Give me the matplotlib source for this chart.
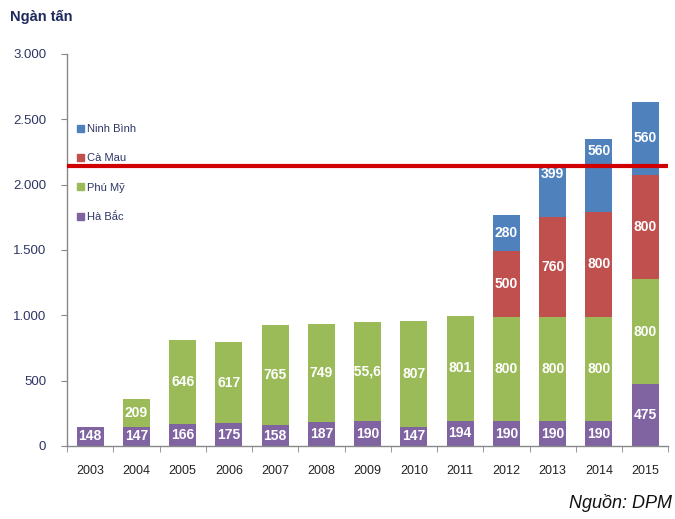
import matplotlib
matplotlib.use("Agg")
import matplotlib.pyplot as plt
from matplotlib.patches import Patch
from matplotlib.ticker import FuncFormatter

years = ["2003", "2004", "2005", "2006", "2007", "2008", "2009", "2010",
         "2011", "2012", "2013", "2014", "2015"]
ha_bac = [148, 147, 166, 175, 158, 187, 190, 147, 194, 190, 190, 190, 475]
phu_my = [0, 209, 646, 617, 765, 749, 755.69, 807, 801, 800, 800, 800, 800]
ca_mau = [0, 0, 0, 0, 0, 0, 0, 0, 0, 500, 760, 800, 800]
ninh_binh = [0, 0, 0, 0, 0, 0, 0, 0, 0, 280, 399, 560, 560]
capacity_line = 2140

series = [("Hà Bắc", ha_bac, "#8064A2"),
          ("Phú Mỹ", phu_my, "#9BBB59"),
          ("Cà Mau", ca_mau, "#C0504D"),
          ("Ninh Bình", ninh_binh, "#4F81BD")]

narrow = ["Liberation Sans", "DejaVu Sans"]
navy = "#2E3566"

fig = plt.figure(figsize=(6.75, 5.19), dpi=100)
ax = fig.add_axes([0.0993, 0.1407, 0.8907, 0.7553])

x = list(range(len(years)))
bottom = [0.0] * len(years)
for name, vals, color in series:
    ax.bar(x, vals, width=0.58, bottom=bottom, color=color, label=name, zorder=2)
    for i, v in enumerate(vals):
        if v <= 0:
            continue
        txt = f"{v:.2f}".replace(".", ",") if v != int(v) else f"{int(v)}"
        pos = 0.5
        if name == "Ninh Bình" and years[i] in ("2013", "2014"):
            pos = 0.83
        ax.text(i, bottom[i] + v * pos, txt, ha="center", va="center",
                color="white", fontsize=10, fontweight="bold",
                family=narrow, zorder=3)
    bottom = [b + v for b, v in zip(bottom, vals)]

ax.axhline(capacity_line, color="#D00000", linewidth=3, zorder=4)

ax.set_xlim(-0.34, 12.49)
ax.set_ylim(0, 3000)
ax.set_yticks(range(0, 3001, 500))
ax.yaxis.set_major_formatter(FuncFormatter(lambda v, p: f"{int(v):,}".replace(",", ".")))
ax.set_xticks(x)
ax.set_xticklabels(years)
ax.set_xticks([i + 0.5 for i in range(-1, len(years))], minor=True)
ax.tick_params(axis="x", which="major", length=0, pad=14, labelsize=9,
               labelcolor="#222222")
ax.tick_params(axis="x", which="minor", length=4, color="#888888", direction="out")
ax.tick_params(axis="y", length=4, color="#888888", labelsize=9.5, labelcolor=navy,
               pad=11)
for lab in ax.get_xticklabels() + ax.get_yticklabels():
    lab.set_family(narrow)

for side in ("top", "right"):
    ax.spines[side].set_visible(False)
for side in ("left", "bottom"):
    ax.spines[side].set_color("#888888")
    ax.spines[side].set_linewidth(1)

handles = [Patch(color=c, label=n) for n, _, c in reversed(series)]
leg = ax.legend(handles=handles, loc="upper left", bbox_to_anchor=(0.0, 0.847),
                frameon=False, handlelength=0.6, handleheight=0.6,
                handletextpad=0.3, labelspacing=1.75,
                prop={"family": narrow, "size": 8})
for t in leg.get_texts():
    t.set_color(navy)

fig.text(0.015, 0.968, "Ngàn tấn", ha="left", va="center", fontsize=10.5,
         fontweight="bold", color="#1F2A5C", family=narrow)
fig.text(0.995, 0.03, "Nguồn: DPM", ha="right", va="center", fontsize=13,
         style="italic", color="#111111", family=["Liberation Sans", "DejaVu Sans"])

fig.savefig("out.png", dpi=100)
